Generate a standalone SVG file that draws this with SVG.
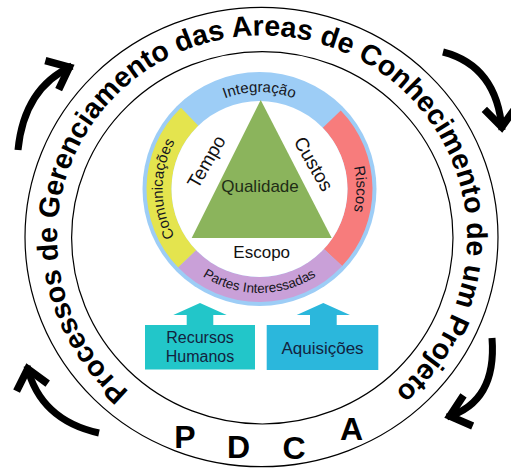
<svg xmlns="http://www.w3.org/2000/svg" width="511" height="468" viewBox="0 0 511 468">
  <defs>
    <style>
      .ring { font-family: "Liberation Sans", Arial, sans-serif; font-weight: bold; font-size: 28.5px; fill: #000; }
      .pdca { font-family: "Liberation Sans", Arial, sans-serif; font-weight: bold; font-size: 32px; fill: #000; text-anchor: middle; }
      .band { font-family: "Liberation Sans", Arial, sans-serif; font-size: 15px; fill: #151520; }
      .tri { font-family: "Liberation Sans", Arial, sans-serif; font-size: 19px; fill: #111; text-anchor: middle; }
      .box { font-family: "Liberation Sans", Arial, sans-serif; font-size: 16px; fill: #13233f; text-anchor: middle; }
      .cyc { fill: none; stroke: #000; stroke-width: 7; marker-end: url(#chev); }
      .guide { fill: none; stroke: #000; stroke-width: 1.2; }
    </style>
    <marker id="chev" markerUnits="userSpaceOnUse" markerWidth="50" markerHeight="50" viewBox="-30 -25 50 50" refX="3" refY="0" orient="auto" overflow="visible">
      <path d="M-19,-16 L0,0 L-19,16" fill="none" stroke="#000" stroke-width="7.5" stroke-linejoin="miter"/>
    </marker>
    <path id="mainPath" d="M130.2,392.2 A205,202 0 1,1 393.8,392.2"/>
    <path id="topPath" d="M162.5,189 A97,97 0 0,1 356.5,189"/>
    <path id="leftPath" d="M259.5,286 A97,97 0 0,1 259.5,92"/>
    <path id="rightPath" d="M259.5,92 A97,97 0 0,1 259.5,286"/>
    <path id="bottomPath" d="M155.5,189 A104,104 0 0,0 363.5,189"/>
  </defs>

  <rect width="511" height="468" fill="#fff"/>

  <g id="outer-ring">
    <ellipse class="guide" cx="261.5" cy="237" rx="236.5" ry="229.7"/>
    <ellipse class="guide" cx="262.3" cy="237.8" rx="190.7" ry="186.2"/>
    <text class="ring"><textPath href="#mainPath" startOffset="50%" text-anchor="middle">Processos de Gerenciamento das Areas de Conhecimento de um Projeto</textPath></text>
  </g>

  <g id="pdca">
    <text class="pdca" x="185" y="448">P</text>
    <text class="pdca" x="238.5" y="458">D</text>
    <text class="pdca" x="294" y="459">C</text>
    <text class="pdca" x="351.5" y="440">A</text>
  </g>

  <g id="connectors">
    <path class="cyc" d="M18,150 Q24,88 72,66"/>
    <path class="cyc" d="M443,52 Q497,66 502,130"/>
    <path class="cyc" d="M492,338 Q497,402 447,417"/>
    <path class="cyc" d="M99,433 Q40,420 27,366"/>
  </g>

  <g id="knowledge-wheel">
    <circle cx="259.5" cy="189" r="117" fill="#9dcdf6"/>
    <path id="comunicacoes-band" d="M178.22,267.5 A113,113 0 0,1 181,107.72 L198.37,125.7 A88,88 0 0,0 196.2,250.13 Z" fill="#e4e44e"/>
    <path id="riscos-band" d="M340.78,110.5 A113,113 0 0,1 342.15,266.07 L323.86,249.02 A88,88 0 0,0 322.8,127.87 Z" fill="#f77c7c"/>
    <path id="partes-band" d="M342.15,266.07 A113,113 0 0,1 178.22,267.5 L196.2,250.13 A88,88 0 0,0 323.86,249.02 Z" fill="#c9a0d8"/>
    <circle cx="259.5" cy="189" r="88" fill="#fff"/>
    <text class="band"><textPath href="#topPath" startOffset="50%" text-anchor="middle">Integração</textPath></text>
    <text class="band"><textPath href="#leftPath" startOffset="50%" text-anchor="middle">Comunicações</textPath></text>
    <text class="band"><textPath href="#rightPath" startOffset="50%" text-anchor="middle">Riscos</textPath></text>
    <text class="band" style="font-size:13.5px"><textPath href="#bottomPath" startOffset="50%" text-anchor="middle">Partes Interessadas</textPath></text>
  </g>

  <g id="triangle">
    <polygon points="260.7,100 191.7,238 331.7,238" fill="#8bb45c"/>
    <text class="tri" x="260" y="192" style="font-size:17px;fill:#1f2d16">Qualidade</text>
    <text class="tri" transform="translate(212,165) rotate(-60)">Tempo</text>
    <text class="tri" transform="translate(308,167) rotate(60)">Custos</text>
    <text class="tri" x="261.7" y="258" style="font-size:17px">Escopo</text>
  </g>

  <g id="recursos-humanos">
    <polygon points="200,303 226.7,315 213.3,315 213.3,325 255,325 255,369.5 145,369.5 145,325 186.7,325 186.7,315 173.3,315" fill="#22c6c9"/>
    <text class="box" x="200" y="343">Recursos</text>
    <text class="box" x="200" y="362">Humanos</text>
  </g>

  <g id="aquisicoes">
    <polygon points="323.3,303 350,315 336.7,315 336.7,325 378.3,325 378.3,370 266.7,370 266.7,325 310,325 310,315 296.7,315" fill="#2bb7dc"/>
    <text class="box" x="322.5" y="353.5" style="font-size:17px">Aquisições</text>
  </g>
</svg>
